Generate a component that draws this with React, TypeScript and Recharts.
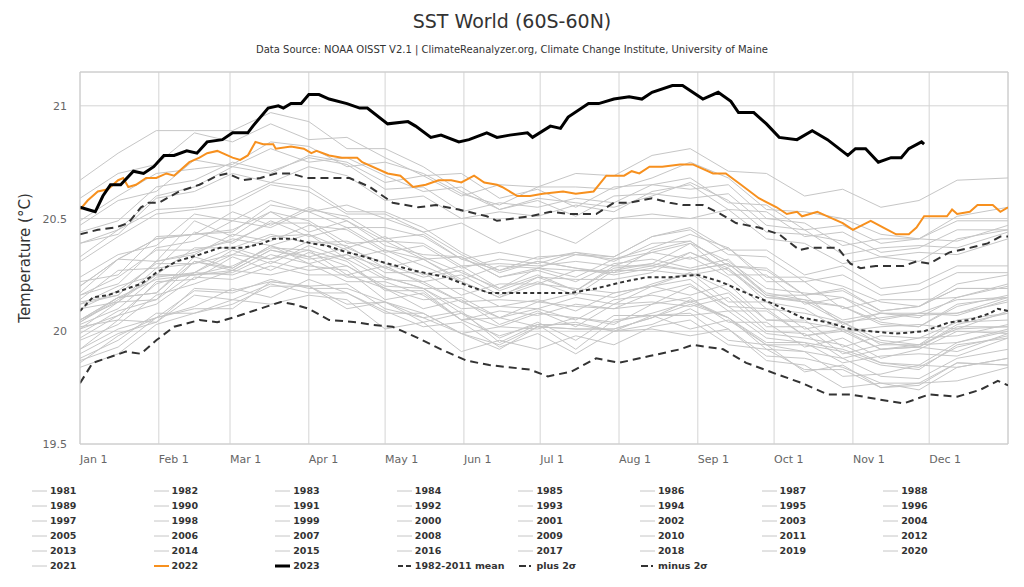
import React from 'react';
import { LineChart, Line, XAxis, YAxis, CartesianGrid, ReferenceLine } from 'recharts';

const FONT = '"DejaVu Sans", Verdana, sans-serif';

// axis ticks
const monthTicks = [1, 32, 60, 91, 121, 152, 182, 213, 244, 274, 305, 335];
const monthLabels = ['Jan 1', 'Feb 1', 'Mar 1', 'Apr 1', 'May 1', 'Jun 1', 'Jul 1', 'Aug 1', 'Sep 1', 'Oct 1', 'Nov 1', 'Dec 1'];
const yTicks = [19.5, 20, 20.5, 21];

// 1981-2021 (grey), sampled every ~15 days
const greyDays = [1, 16, 31, 46, 61, 76, 91, 106, 121, 136, 151, 166, 181, 196, 211, 226, 241, 256, 271, 286, 301, 316, 331, 346, 366];
const y1981 = [19.92, 20.05, 20.04, 20.19, 20.18, 20.22, 20.20, 20.21, 20.10, 20.06, 20.09, 19.95, 20.03, 19.92, 20.05, 20.07, 20.01, 20.05, 19.94, 19.91, 19.80, 19.81, 19.85, 19.84, 19.88];
const y1982 = [19.87, 19.93, 20.06, 20.11, 20.19, 20.15, 20.23, 20.17, 20.08, 20.08, 19.99, 20.02, 20.01, 20.06, 20.03, 20.12, 20.15, 20.04, 20.04, 19.93, 19.97, 19.88, 19.92, 20.00, 19.99];
const y1983 = [20.04, 20.15, 20.23, 20.25, 20.26, 20.34, 20.30, 20.22, 20.22, 20.16, 20.05, 19.98, 20.03, 20.03, 20.00, 20.03, 20.10, 20.01, 19.89, 19.88, 19.84, 19.77, 19.74, 19.84, 19.88];
const y1984 = [19.90, 19.99, 20.04, 20.16, 20.14, 20.21, 20.17, 20.17, 20.09, 20.02, 20.04, 19.93, 19.99, 19.90, 20.00, 20.01, 19.98, 20.01, 19.87, 19.85, 19.75, 19.77, 19.77, 19.78, 19.84];
const y1985 = [19.84, 19.90, 20.03, 20.08, 20.14, 20.12, 20.16, 20.14, 20.01, 20.04, 19.91, 19.96, 19.92, 19.98, 19.94, 20.02, 20.05, 19.94, 19.92, 19.83, 19.83, 19.75, 19.76, 19.86, 19.85];
const y1986 = [19.88, 19.96, 20.08, 20.08, 20.12, 20.20, 20.20, 20.10, 20.13, 20.06, 19.99, 19.92, 20.02, 20.01, 20.01, 20.06, 20.14, 20.06, 19.95, 19.95, 19.92, 19.86, 19.85, 19.95, 20.00];
const y1987 = [20.01, 20.13, 20.14, 20.31, 20.27, 20.36, 20.32, 20.34, 20.28, 20.22, 20.25, 20.16, 20.22, 20.16, 20.27, 20.27, 20.25, 20.28, 20.13, 20.10, 20.00, 20.02, 20.03, 20.01, 20.09];
const y1988 = [20.10, 20.13, 20.28, 20.30, 20.37, 20.32, 20.36, 20.31, 20.18, 20.18, 20.05, 20.06, 20.02, 20.04, 20.00, 20.07, 20.08, 19.96, 19.94, 19.82, 19.85, 19.75, 19.77, 19.86, 19.85];
const y1989 = [19.86, 19.98, 20.06, 20.10, 20.10, 20.22, 20.20, 20.12, 20.13, 20.08, 19.99, 19.94, 20.02, 20.01, 20.01, 20.06, 20.12, 20.06, 19.94, 19.94, 19.91, 19.85, 19.83, 19.94, 19.97];
const y1990 = [19.99, 20.09, 20.14, 20.26, 20.25, 20.31, 20.27, 20.29, 20.19, 20.14, 20.15, 20.06, 20.10, 20.05, 20.14, 20.16, 20.13, 20.17, 20.02, 20.02, 19.90, 19.94, 19.94, 19.95, 20.01];
const y1991 = [20.02, 20.05, 20.22, 20.23, 20.33, 20.27, 20.35, 20.29, 20.20, 20.19, 20.10, 20.11, 20.10, 20.15, 20.12, 20.20, 20.23, 20.11, 20.10, 19.98, 20.01, 19.92, 19.94, 20.01, 20.02];
const y1992 = [20.05, 20.13, 20.25, 20.25, 20.27, 20.36, 20.33, 20.24, 20.24, 20.19, 20.08, 20.02, 20.08, 20.06, 20.04, 20.08, 20.13, 20.06, 19.92, 19.91, 19.88, 19.80, 19.79, 19.88, 19.92];
const y1993 = [19.92, 20.01, 20.06, 20.18, 20.17, 20.23, 20.19, 20.19, 20.13, 20.04, 20.08, 19.97, 20.04, 19.96, 20.07, 20.07, 20.07, 20.09, 19.97, 19.95, 19.86, 19.89, 19.90, 19.89, 19.97];
const y1994 = [19.96, 20.03, 20.16, 20.21, 20.27, 20.25, 20.29, 20.27, 20.14, 20.17, 20.05, 20.09, 20.07, 20.12, 20.10, 20.17, 20.21, 20.09, 20.09, 19.98, 20.00, 19.92, 19.93, 20.02, 20.02];
const y1995 = [20.04, 20.14, 20.25, 20.25, 20.29, 20.37, 20.36, 20.25, 20.29, 20.21, 20.13, 20.06, 20.13, 20.11, 20.10, 20.12, 20.20, 20.11, 19.99, 19.97, 19.94, 19.86, 19.84, 19.93, 19.98];
const y1996 = [19.97, 20.07, 20.12, 20.24, 20.23, 20.29, 20.25, 20.25, 20.19, 20.10, 20.14, 20.03, 20.09, 20.02, 20.12, 20.13, 20.11, 20.15, 20.00, 19.99, 19.88, 19.92, 19.93, 19.91, 19.99];
const y1997 = [20.01, 20.07, 20.21, 20.26, 20.34, 20.32, 20.40, 20.38, 20.28, 20.32, 20.23, 20.29, 20.28, 20.34, 20.33, 20.42, 20.46, 20.36, 20.36, 20.25, 20.29, 20.19, 20.21, 20.29, 20.29];
const y1998 = [20.33, 20.45, 20.54, 20.55, 20.58, 20.66, 20.64, 20.53, 20.53, 20.46, 20.35, 20.27, 20.31, 20.28, 20.25, 20.28, 20.33, 20.24, 20.10, 20.08, 20.04, 19.96, 19.94, 20.05, 20.08];
const y1999 = [20.05, 20.15, 20.17, 20.33, 20.28, 20.38, 20.30, 20.34, 20.24, 20.19, 20.19, 20.11, 20.14, 20.09, 20.17, 20.20, 20.16, 20.21, 20.05, 20.05, 19.93, 19.98, 19.97, 19.98, 20.03];
const y2000 = [20.03, 20.10, 20.24, 20.26, 20.36, 20.30, 20.38, 20.32, 20.23, 20.22, 20.13, 20.14, 20.13, 20.17, 20.15, 20.21, 20.26, 20.13, 20.13, 20.01, 20.04, 19.94, 19.97, 20.04, 20.05];
const y2001 = [20.10, 20.18, 20.30, 20.30, 20.34, 20.42, 20.43, 20.32, 20.36, 20.29, 20.22, 20.15, 20.24, 20.23, 20.23, 20.26, 20.35, 20.27, 20.15, 20.13, 20.11, 20.03, 20.02, 20.11, 20.16];
const y2002 = [20.14, 20.27, 20.28, 20.44, 20.39, 20.49, 20.42, 20.46, 20.36, 20.32, 20.33, 20.24, 20.28, 20.24, 20.32, 20.35, 20.32, 20.37, 20.22, 20.22, 20.10, 20.14, 20.14, 20.15, 20.21];
const y2003 = [20.22, 20.25, 20.42, 20.43, 20.53, 20.47, 20.55, 20.49, 20.40, 20.39, 20.29, 20.30, 20.29, 20.31, 20.29, 20.35, 20.39, 20.25, 20.25, 20.12, 20.15, 20.05, 20.08, 20.14, 20.15];
const y2004 = [20.16, 20.24, 20.36, 20.36, 20.40, 20.48, 20.48, 20.37, 20.42, 20.33, 20.26, 20.19, 20.28, 20.27, 20.27, 20.30, 20.39, 20.31, 20.19, 20.17, 20.15, 20.08, 20.06, 20.15, 20.20];
const y2005 = [20.17, 20.32, 20.31, 20.49, 20.42, 20.53, 20.44, 20.49, 20.38, 20.34, 20.33, 20.24, 20.27, 20.22, 20.30, 20.32, 20.28, 20.32, 20.16, 20.16, 20.03, 20.08, 20.07, 20.08, 20.13];
const y2006 = [20.13, 20.16, 20.31, 20.35, 20.41, 20.38, 20.43, 20.36, 20.26, 20.26, 20.16, 20.21, 20.21, 20.27, 20.26, 20.36, 20.40, 20.29, 20.28, 20.16, 20.19, 20.09, 20.11, 20.19, 20.19];
const y2007 = [20.20, 20.32, 20.41, 20.43, 20.45, 20.53, 20.49, 20.39, 20.40, 20.32, 20.22, 20.15, 20.21, 20.19, 20.17, 20.20, 20.26, 20.18, 20.05, 20.04, 20.01, 19.95, 19.93, 20.03, 20.08];
const y2008 = [20.05, 20.15, 20.17, 20.31, 20.28, 20.38, 20.33, 20.37, 20.30, 20.24, 20.27, 20.18, 20.24, 20.18, 20.29, 20.29, 20.27, 20.30, 20.16, 20.13, 20.04, 20.06, 20.08, 20.07, 20.14];
const y2009 = [20.12, 20.16, 20.31, 20.34, 20.43, 20.40, 20.47, 20.45, 20.35, 20.38, 20.28, 20.32, 20.30, 20.35, 20.33, 20.42, 20.45, 20.34, 20.33, 20.22, 20.25, 20.16, 20.18, 20.26, 20.26];
const y2010 = [20.31, 20.42, 20.52, 20.54, 20.56, 20.65, 20.62, 20.52, 20.52, 20.44, 20.34, 20.26, 20.31, 20.28, 20.26, 20.29, 20.35, 20.28, 20.15, 20.14, 20.11, 20.04, 20.02, 20.12, 20.15];
const y2011 = [20.12, 20.20, 20.25, 20.37, 20.37, 20.43, 20.39, 20.40, 20.34, 20.25, 20.29, 20.19, 20.25, 20.18, 20.28, 20.30, 20.27, 20.30, 20.17, 20.14, 20.05, 20.08, 20.08, 20.08, 20.15];
const y2012 = [20.16, 20.21, 20.37, 20.40, 20.49, 20.46, 20.54, 20.51, 20.41, 20.43, 20.32, 20.35, 20.32, 20.35, 20.31, 20.39, 20.40, 20.29, 20.27, 20.16, 20.18, 20.09, 20.11, 20.19, 20.19];
const y2013 = [20.20, 20.32, 20.41, 20.43, 20.44, 20.56, 20.53, 20.46, 20.46, 20.42, 20.32, 20.27, 20.33, 20.34, 20.32, 20.37, 20.43, 20.37, 20.24, 20.24, 20.20, 20.13, 20.11, 20.21, 20.25];
const y2014 = [20.24, 20.34, 20.38, 20.52, 20.49, 20.58, 20.53, 20.56, 20.50, 20.44, 20.48, 20.39, 20.45, 20.39, 20.50, 20.52, 20.50, 20.54, 20.41, 20.39, 20.30, 20.33, 20.35, 20.34, 20.41];
const y2015 = [20.39, 20.45, 20.60, 20.64, 20.73, 20.70, 20.78, 20.75, 20.66, 20.69, 20.60, 20.65, 20.64, 20.70, 20.69, 20.78, 20.81, 20.71, 20.70, 20.60, 20.63, 20.55, 20.58, 20.67, 20.68];
const y2016 = [20.67, 20.79, 20.89, 20.89, 20.89, 20.97, 20.93, 20.81, 20.81, 20.73, 20.62, 20.54, 20.59, 20.57, 20.55, 20.60, 20.66, 20.58, 20.44, 20.43, 20.40, 20.33, 20.31, 20.41, 20.45];
const y2017 = [20.47, 20.58, 20.62, 20.76, 20.73, 20.81, 20.75, 20.77, 20.69, 20.62, 20.64, 20.54, 20.58, 20.51, 20.60, 20.61, 20.59, 20.61, 20.47, 20.45, 20.34, 20.37, 20.38, 20.37, 20.44];
const y2018 = [20.39, 20.43, 20.59, 20.62, 20.70, 20.66, 20.73, 20.69, 20.58, 20.60, 20.50, 20.53, 20.51, 20.56, 20.53, 20.62, 20.65, 20.54, 20.53, 20.42, 20.44, 20.35, 20.37, 20.45, 20.45];
const y2019 = [20.49, 20.60, 20.70, 20.72, 20.74, 20.84, 20.82, 20.73, 20.75, 20.70, 20.61, 20.56, 20.64, 20.64, 20.63, 20.68, 20.75, 20.68, 20.54, 20.53, 20.50, 20.43, 20.41, 20.51, 20.55];
const y2020 = [20.59, 20.70, 20.74, 20.88, 20.84, 20.92, 20.85, 20.86, 20.77, 20.69, 20.70, 20.59, 20.63, 20.55, 20.64, 20.65, 20.63, 20.65, 20.50, 20.48, 20.38, 20.41, 20.41, 20.40, 20.47];
const y2021 = [20.44, 20.49, 20.64, 20.67, 20.75, 20.71, 20.77, 20.74, 20.63, 20.64, 20.53, 20.57, 20.55, 20.59, 20.57, 20.65, 20.68, 20.57, 20.56, 20.45, 20.47, 20.39, 20.41, 20.49, 20.49];

const greyYears: [string, number[]][] = [
  ['1981', y1981], ['1982', y1982], ['1983', y1983], ['1984', y1984], ['1985', y1985], ['1986', y1986],
  ['1987', y1987], ['1988', y1988], ['1989', y1989], ['1990', y1990], ['1991', y1991], ['1992', y1992],
  ['1993', y1993], ['1994', y1994], ['1995', y1995], ['1996', y1996], ['1997', y1997], ['1998', y1998],
  ['1999', y1999], ['2000', y2000], ['2001', y2001], ['2002', y2002], ['2003', y2003], ['2004', y2004],
  ['2005', y2005], ['2006', y2006], ['2007', y2007], ['2008', y2008], ['2009', y2009], ['2010', y2010],
  ['2011', y2011], ['2012', y2012], ['2013', y2013], ['2014', y2014], ['2015', y2015], ['2016', y2016],
  ['2017', y2017], ['2018', y2018], ['2019', y2019], ['2020', y2020], ['2021', y2021],
];

// 2022
const days2022 = [1, 4, 8, 12, 16, 18, 20, 23, 27, 31, 35, 38, 44, 48, 51, 55, 61, 64, 67, 70, 73, 77, 78, 84, 89, 92, 94, 99, 104, 110, 112, 122, 127, 132, 137, 142, 147, 151, 156, 160, 165, 167, 173, 178, 183, 191, 196, 203, 208, 215, 218, 221, 225, 230, 237, 242, 250, 255, 261, 268, 275, 279, 283, 285, 291, 295, 301, 305, 312, 317, 322, 327, 330, 333, 338, 342, 344, 346, 351, 354, 360, 363, 366];
const sst2022 = [20.54, 20.58, 20.62, 20.63, 20.67, 20.68, 20.64, 20.65, 20.68, 20.68, 20.70, 20.69, 20.75, 20.77, 20.79, 20.80, 20.77, 20.76, 20.78, 20.84, 20.83, 20.83, 20.81, 20.82, 20.81, 20.79, 20.80, 20.78, 20.77, 20.77, 20.75, 20.70, 20.69, 20.64, 20.65, 20.67, 20.67, 20.66, 20.69, 20.66, 20.65, 20.64, 20.60, 20.60, 20.61, 20.62, 20.61, 20.62, 20.69, 20.69, 20.71, 20.70, 20.73, 20.73, 20.74, 20.74, 20.70, 20.70, 20.65, 20.59, 20.55, 20.52, 20.53, 20.51, 20.53, 20.51, 20.48, 20.45, 20.49, 20.46, 20.43, 20.43, 20.46, 20.51, 20.51, 20.51, 20.54, 20.52, 20.53, 20.56, 20.56, 20.53, 20.55];

// 2023
const days2023 = [1, 4, 7, 10, 13, 17, 22, 26, 30, 34, 38, 43, 47, 51, 57, 61, 67, 69, 75, 79, 81, 84, 88, 91, 95, 99, 106, 111, 114, 122, 130, 133, 139, 143, 150, 154, 161, 165, 170, 177, 179, 186, 190, 193, 201, 205, 211, 217, 222, 226, 234, 238, 246, 252, 257, 260, 266, 271, 276, 283, 289, 295, 303, 306, 310, 315, 320, 324, 327, 332, 333];
const sst2023 = [20.55, 20.54, 20.53, 20.60, 20.65, 20.65, 20.71, 20.70, 20.73, 20.78, 20.78, 20.80, 20.79, 20.84, 20.85, 20.88, 20.88, 20.91, 20.99, 21.00, 20.99, 21.01, 21.01, 21.05, 21.05, 21.03, 21.01, 20.99, 20.99, 20.92, 20.93, 20.91, 20.86, 20.87, 20.84, 20.85, 20.88, 20.86, 20.87, 20.88, 20.86, 20.91, 20.90, 20.95, 21.01, 21.01, 21.03, 21.04, 21.03, 21.06, 21.09, 21.09, 21.03, 21.06, 21.02, 20.97, 20.97, 20.92, 20.86, 20.85, 20.89, 20.85, 20.78, 20.81, 20.81, 20.75, 20.77, 20.77, 20.81, 20.84, 20.83];

// 1982-2011 mean and +/- 2 sigma
const meanDays = [1, 6, 12, 17, 25, 31, 39, 48, 56, 65, 73, 77, 85, 92, 98, 106, 110, 119, 132, 145, 154, 162, 178, 194, 204, 215, 224, 233, 244, 253, 263, 274, 285, 295, 304, 312, 322, 333, 343, 351, 359, 362, 366];
const meanVals = [20.09, 20.15, 20.16, 20.18, 20.21, 20.26, 20.31, 20.34, 20.37, 20.37, 20.39, 20.41, 20.41, 20.39, 20.38, 20.35, 20.34, 20.31, 20.27, 20.24, 20.20, 20.17, 20.17, 20.17, 20.19, 20.22, 20.24, 20.24, 20.25, 20.22, 20.17, 20.12, 20.06, 20.04, 20.01, 20.00, 19.99, 20.00, 20.04, 20.05, 20.08, 20.10, 20.09];
const plusDays = [1, 8, 15, 20, 25, 28, 32, 40, 48, 55, 59, 65, 72, 78, 84, 90, 98, 107, 115, 124, 134, 141, 150, 161, 165, 178, 186, 194, 204, 211, 217, 226, 233, 238, 246, 253, 259, 268, 276, 284, 288, 299, 304, 308, 314, 325, 330, 335, 343, 351, 358, 363, 366];
const plusVals = [20.43, 20.45, 20.46, 20.48, 20.55, 20.57, 20.57, 20.62, 20.65, 20.69, 20.70, 20.67, 20.68, 20.70, 20.70, 20.68, 20.68, 20.68, 20.64, 20.57, 20.55, 20.56, 20.54, 20.51, 20.49, 20.51, 20.53, 20.52, 20.52, 20.57, 20.57, 20.59, 20.57, 20.56, 20.56, 20.52, 20.48, 20.46, 20.43, 20.36, 20.37, 20.37, 20.30, 20.28, 20.29, 20.29, 20.31, 20.30, 20.35, 20.37, 20.39, 20.42, 20.42];
const minusDays = [1, 6, 14, 19, 25, 31, 38, 48, 55, 61, 69, 80, 85, 91, 99, 110, 115, 124, 134, 143, 153, 162, 178, 185, 194, 204, 213, 225, 237, 242, 254, 263, 275, 285, 295, 304, 314, 325, 335, 346, 355, 362, 366];
const minusVals = [19.77, 19.86, 19.89, 19.91, 19.90, 19.96, 20.02, 20.05, 20.04, 20.06, 20.09, 20.13, 20.12, 20.10, 20.05, 20.04, 20.03, 20.02, 19.97, 19.92, 19.87, 19.85, 19.83, 19.80, 19.82, 19.88, 19.86, 19.89, 19.92, 19.94, 19.92, 19.86, 19.81, 19.77, 19.72, 19.72, 19.70, 19.68, 19.72, 19.71, 19.74, 19.78, 19.76];

const pts = (days: number[], vals: number[]) => days.map((d, i) => ({ day: d, v: vals[i] }));

const GREY = '#c6c6c6';
const ORANGE = '#f7901e';

const XTick = (props: any) => {
  const { x, y, payload } = props;
  const label = monthLabels[monthTicks.indexOf(payload.value)];
  return (
    <text x={x} y={y} dy={11} textAnchor="start" fontSize={11} fill="#666" fontFamily={FONT}>
      {label}
    </text>
  );
};

const YTick = (props: any) => {
  const { y, payload } = props;
  return (
    <text x={67} y={y} dy={4} textAnchor="end" fontSize={11} fill="#666" fontFamily={FONT}>
      {payload.value}
    </text>
  );
};

type LegendItem = { name: string; kind: 'grey' | 'y2022' | 'y2023' | 'mean' | 'sigma' };
const legendItems: LegendItem[] = [
  ...greyYears.map(([name]) => ({ name, kind: 'grey' as const })),
  { name: '2022', kind: 'y2022' },
  { name: '2023', kind: 'y2023' },
  { name: '1982-2011 mean', kind: 'mean' },
  { name: 'plus 2σ', kind: 'sigma' },
  { name: 'minus 2σ', kind: 'sigma' },
];

const Symbol = ({ kind }: { kind: LegendItem['kind'] }) => (
  <svg width={16} height={10} style={{ position: 'absolute', left: 0, top: 2 }}>
    {kind === 'grey' && <line x1={0} y1={5} x2={15} y2={5} stroke={GREY} strokeWidth={1} />}
    {kind === 'y2022' && <line x1={0} y1={5} x2={15} y2={5} stroke={ORANGE} strokeWidth={2} />}
    {kind === 'y2023' && <line x1={0} y1={5} x2={15} y2={5} stroke="#000" strokeWidth={3} />}
    {kind === 'mean' && <line x1={1} y1={5} x2={15} y2={5} stroke="#333" strokeWidth={2} strokeDasharray="5 3" />}
    {kind === 'sigma' && <line x1={1} y1={5} x2={15} y2={5} stroke="#333" strokeWidth={2} strokeDasharray="7 3 2 3" />}
  </svg>
);

const App: React.FC = () => {
  return (
    <div style={{ position: 'absolute', left: 0, top: 0, width: 1024, height: 587, background: '#fff', fontFamily: FONT }}>
      <div style={{ position: 'absolute', top: 8, width: 1024, textAlign: 'center', fontSize: 19, color: '#333', lineHeight: '26px' }}>
        SST World (60S-60N)
      </div>
      <div style={{ position: 'absolute', top: 43, width: 1024, textAlign: 'center', fontSize: 10, color: '#333', lineHeight: '14px' }}>
        Data Source: NOAA OISST V2.1 | ClimateReanalyzer.org, Climate Change Institute, University of Maine
      </div>
      <div
        style={{
          position: 'absolute', left: 25, top: 258, transform: 'translate(-50%, -50%) rotate(-90deg)',
          fontSize: 15, color: '#333', whiteSpace: 'nowrap',
        }}
      >
        Temperature (°C)
      </div>

      <div style={{ position: 'absolute', left: 0, top: 0 }}>
        <LineChart width={1024} height={480} margin={{ top: 72, right: 16, bottom: 6, left: 0 }}>
          <CartesianGrid stroke="#d4d4d4" />
          <XAxis
            type="number"
            dataKey="day"
            domain={[1, 366]}
            ticks={monthTicks}
            tick={<XTick />}
            tickLine={false}
            axisLine={{ stroke: '#ccc' }}
            height={30}
            allowDataOverflow
          />
          <YAxis
            type="number"
            domain={[19.5, 21.15]}
            ticks={yTicks}
            tick={<YTick />}
            tickLine={false}
            axisLine={{ stroke: '#ccc' }}
            width={80}
            allowDataOverflow
          />
          <ReferenceLine y={21.15} stroke="#ccc" />
          <ReferenceLine x={366} stroke="#ccc" />
          {greyYears.map(([name, vals]) => (
            <Line
              key={name}
              name={name}
              data={pts(greyDays, vals)}
              dataKey="v"
              stroke={GREY}
              strokeWidth={1}
              dot={false}
              activeDot={false}
              isAnimationActive={false}
            />
          ))}
          <Line name="plus 2σ" data={pts(plusDays, plusVals)} dataKey="v" stroke="#333" strokeWidth={2} strokeDasharray="8 5" dot={false} activeDot={false} isAnimationActive={false} />
          <Line name="1982-2011 mean" data={pts(meanDays, meanVals)} dataKey="v" stroke="#333" strokeWidth={2} strokeDasharray="4 3" dot={false} activeDot={false} isAnimationActive={false} />
          <Line name="minus 2σ" data={pts(minusDays, minusVals)} dataKey="v" stroke="#333" strokeWidth={2} strokeDasharray="8 5" dot={false} activeDot={false} isAnimationActive={false} />
          <Line name="2022" data={pts(days2022, sst2022)} dataKey="v" stroke={ORANGE} strokeWidth={2} dot={false} activeDot={false} isAnimationActive={false} />
          <Line name="2023" data={pts(days2023, sst2023)} dataKey="v" stroke="#000" strokeWidth={3} dot={false} activeDot={false} isAnimationActive={false} />
        </LineChart>
      </div>

      {legendItems.map((item, i) => {
        const col = i % 8;
        const row = Math.floor(i / 8);
        return (
          <div
            key={item.name}
            style={{
              position: 'absolute', left: 32 + col * 121.6, top: 484 + row * 15, height: 14,
              lineHeight: '14px', fontSize: 9.5, fontWeight: 'bold', color: '#333', whiteSpace: 'nowrap', paddingLeft: 18,
            }}
          >
            <Symbol kind={item.kind} />
            {item.name}
          </div>
        );
      })}
    </div>
  );
};

export default App;
